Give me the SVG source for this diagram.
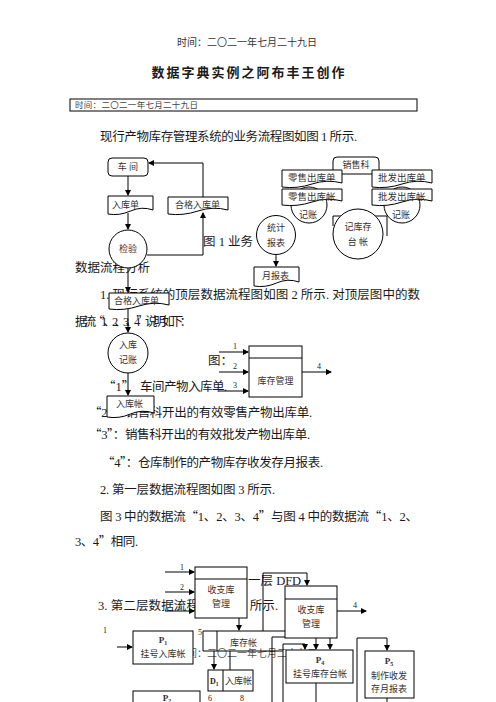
<svg xmlns="http://www.w3.org/2000/svg" width="496" height="702" viewBox="0 0 496 702">
<defs>
<marker id="ah" markerWidth="6" markerHeight="6" refX="5" refY="3" orient="auto" markerUnits="userSpaceOnUse">
<path d="M0,0 L6,3 L0,6 Z" fill="#000"/>
</marker>
<style>
text{font-family:"Liberation Serif","Noto Sans CJK SC",serif;fill:#1a1a1a}
.body{font-size:12.5px}
.q{font-family:"Noto Sans CJK SC",sans-serif}
.lab{font-size:9px;fill:#333}
.sm{font-size:8px}
.shape{fill:#fff;stroke:#000;stroke-width:1}
.ln{fill:none;stroke:#000;stroke-width:1}
.arr{fill:none;stroke:#000;stroke-width:1;marker-end:url(#ah)}
.mid{text-anchor:middle}
</style>
</defs>
<rect width="496" height="702" fill="#fff"/>

<g id="page-text">
<text x="247" y="46" class="mid" style="font-size:10px;fill:#333">时间：二〇二一年七月二十九日</text>
<text x="248" y="77" class="mid" style="font-size:13px;font-weight:bold" textLength="193">数据字典实例之阿布丰王创作</text>
<rect x="70" y="99" width="347" height="12" fill="none" stroke="#000" stroke-width="1"/>
<text x="75" y="108" style="font-size:8.5px;fill:#444" textLength="123">时间：二〇二一年七月二十九日</text>
<text x="100" y="141" class="body" textLength="257">现行产物库存管理系统的业务流程图如图 1 所示.</text>
<text x="203" y="246" class="body">图 1   业务</text>
<text x="75" y="272" class="body" textLength="75">数据流程分析</text>
<text x="100" y="299" class="body" textLength="320">1. 现行系统的顶层数据流程图如图 2 所示. 对顶层图中的数</text>
<text x="75" y="326" class="body" textLength="117">据流<tspan class="q">“</tspan>1、2、3、4<tspan class="q">”</tspan>说明如下：</text>
<text x="208" y="365" class="body">图：</text>
<text x="103" y="391" class="body"><tspan class="q">“</tspan>1<tspan class="q">”</tspan></text>
<text x="140" y="391" class="body" textLength="87">车间产物入库单.</text>
<text x="89" y="417" class="body" textLength="223"><tspan class="q">“</tspan>2<tspan class="q">”</tspan>：销售科开出的有效零售产物出库单.</text>
<text x="89" y="439" class="body" textLength="221"><tspan class="q">“</tspan>3<tspan class="q">”</tspan>：销售科开出的有效批发产物出库单.</text>
<text x="102" y="467" class="body" textLength="221"><tspan class="q">“</tspan>4<tspan class="q">”</tspan>：仓库制作的产物库存收发存月报表.</text>
<text x="100" y="494" class="body" textLength="175">2. 第一层数据流程图如图 3 所示.</text>
<text x="100" y="521" class="body" textLength="318">图 3 中的数据流<tspan class="q">“</tspan>1、2、3、4<tspan class="q">”</tspan>与图 4 中的数据流<tspan class="q">“</tspan>1、2、</text>
<text x="75" y="546" class="body" textLength="63">3、4<tspan class="q">”</tspan>相同.</text>
<text x="98" y="610" class="body" textLength="180">3. 第二层数据流程图如图 4 所示.</text>
<text x="248" y="585" class="body">一层 DFD</text>
<text x="177" y="657" style="font-size:10px;fill:#555">时间：二〇二一年七月二十九日</text>
</g>

<g id="connectors">
<line x1="128" y1="176" x2="128" y2="195" class="arr"/>
<line x1="128" y1="213" x2="128" y2="229" class="arr"/>
<polyline points="147,255 203,255 203,213" class="arr"/>
<polyline points="203,197 203,163 149,163" class="arr"/>
<line x1="128" y1="268" x2="128" y2="292" class="arr"/>
<line x1="128" y1="308" x2="128" y2="332" class="arr"/>
<line x1="128" y1="373" x2="128" y2="395" class="arr"/>
<line x1="342" y1="172" x2="372" y2="172" class="ln"/>
<line x1="276" y1="255" x2="276" y2="266" class="arr"/>
<line x1="219" y1="352" x2="248" y2="352" class="arr" stroke-width="1.6"/>
<line x1="219" y1="372" x2="248" y2="372" class="arr"/>
<line x1="219" y1="391" x2="248" y2="391" class="arr"/>
<line x1="302" y1="372" x2="331" y2="372" class="arr"/>
<line x1="165" y1="572" x2="194" y2="572" class="arr"/>
<line x1="165" y1="592" x2="194" y2="592" class="arr"/>
<line x1="165" y1="611" x2="194" y2="611" class="arr"/>
<line x1="337" y1="611" x2="366" y2="611" class="arr"/>
<line x1="239" y1="618" x2="239" y2="630" class="arr"/>
<polyline points="263,631 263,573 307,573 307,585" class="arr"/>
<line x1="117" y1="647" x2="132" y2="647" class="arr"/>
<line x1="214" y1="651" x2="214" y2="669" class="arr"/>
<line x1="230" y1="651" x2="230" y2="670" class="ln"/>
<polyline points="272,702 272,637 285,637" class="ln"/>
<polyline points="283,702 283,644 305,644 305,649" class="arr"/>
<line x1="316" y1="638" x2="316" y2="649" class="arr"/>
<line x1="330" y1="638" x2="330" y2="649" class="arr"/>
<line x1="316" y1="683" x2="316" y2="702" class="ln"/>
<polyline points="357,702 357,638 387,638 387,650" class="arr"/>
<line x1="387" y1="698" x2="387" y2="702" class="ln"/>
</g>

<g id="n-chejian"><rect x="108" y="158" width="40" height="18" rx="4" class="shape"/><text x="128" y="170" class="lab mid">车 间</text></g>
<g id="n-rukudan"><path d="M108,196 H153 V210 Q141.75,206 130.5,211 T108,214 Z" class="shape"/><text x="112" y="208" class="lab">入库单</text></g>
<g id="n-hege1"><path d="M168,197 H228 V210 Q213,206 198,211 T168,214 Z" class="shape"/><text x="175" y="208" class="lab">合格入库单</text></g>
<g id="n-jianyan"><circle cx="128" cy="249" r="19" class="shape"/><text x="128" y="252" class="lab mid">检验</text></g>
<g id="n-hege2"><path d="M109,293 H169 V305 Q154,301 139,306 T109,309 Z" class="shape"/><text x="114" y="304" class="lab">合格入库单</text></g>
<g id="n-rukujizhang"><circle cx="128" cy="353" r="20" class="shape"/><text x="128" y="348" class="lab mid">入库</text><text x="128" y="363" class="lab mid">记账</text></g>
<g id="n-rukuzhang"><path d="M107,396 H154 V413 Q142,409 130.5,414 T107,417 Z" class="shape"/><text x="116" y="407" class="lab">入库帐</text></g>

<g id="n-jizhang-l"><circle cx="309" cy="205" r="18" class="shape"/><text x="308" y="218" class="lab mid">记账</text></g>
<g id="n-jizhang-r"><circle cx="402" cy="205" r="18" class="shape"/><text x="401" y="218" class="lab mid">记账</text></g>
<g id="n-xiaoshouke"><rect x="333" y="157" width="46" height="17" rx="4" class="shape"/><text x="356" y="168" class="lab mid">销售科</text></g>
<g id="n-lingshoudan"><path d="M282,170 H342 V183 Q327,179 312,184 T282,187 Z" class="shape"/><text x="288" y="181" class="lab" style="font-size:9.5px">零售出库单</text></g>
<g id="n-lingshouzhang"><path d="M282,189 H342 V201 Q327,197 312,202 T282,205 Z" class="shape"/><text x="288" y="200" class="lab" style="font-size:9.5px">零售出库帐</text></g>
<g id="n-pifadan"><path d="M372,170 H432 V183 Q417,179 402,184 T372,187 Z" class="shape"/><text x="378" y="181" class="lab" style="font-size:9.5px">批发出库单</text></g>
<g id="n-pifazhang"><path d="M372,189 H432 V201 Q417,197 402,202 T372,205 Z" class="shape"/><text x="378" y="200" class="lab" style="font-size:9.5px">批发出库帐</text></g>
<g id="n-jikucun"><path d="M333,226 V216 H387 V236" class="ln"/><circle cx="358" cy="234" r="25" class="shape"/><text x="358" y="230" class="lab mid">记库存</text><text x="358" y="245" class="lab mid">台 帐</text></g>
<g id="n-tongji"><circle cx="276" cy="235" r="19.5" class="shape"/><text x="276" y="231" class="lab mid">统计</text><text x="276" y="246" class="lab mid">报表</text></g>
<g id="n-yuebaobiao"><path d="M254,267 H299 V282 Q287.75,278 276.5,283 T254,286 Z" class="shape"/><text x="262" y="279" class="lab">月报表</text></g>

<g id="n-kucunguanli"><rect x="249" y="346" width="53" height="51" class="shape"/><line x1="249" y1="358" x2="302" y2="358" class="ln"/><text x="275.5" y="384" class="lab mid">库存管理</text></g>
<g id="labels-fig2"><text x="233" y="349" class="sm">1</text><text x="233" y="369" class="sm">2</text><text x="233" y="388" class="sm">3</text><text x="317" y="369" class="sm">4</text></g>

<g id="n-shouzhi1"><rect x="195" y="567" width="52" height="51" class="shape"/><line x1="195" y1="579" x2="247" y2="579" class="ln"/><text x="221" y="593" class="lab mid">收支库</text><text x="221" y="607" class="lab mid">管理</text></g>
<g id="labels-fig3"><text x="180" y="570" class="sm">1</text><text x="180" y="590" class="sm">2</text><text x="177" y="610" class="sm">3</text></g>
<g id="n-shouzhi2"><rect x="285" y="586" width="52" height="52" class="shape"/><line x1="285" y1="599" x2="337" y2="599" class="ln"/><text x="311" y="613" class="lab mid">收支库</text><text x="311" y="627" class="lab mid">管理</text></g>
<text x="353" y="608" class="sm">4</text>

<g id="n-kucunzhang"><path d="M285,631 H203 V651 H283" class="ln"/><line x1="217" y1="631" x2="217" y2="651" class="ln"/><text x="230" y="646" class="lab">库存帐</text></g>
<g id="n-p1"><rect x="133" y="631" width="60" height="33" class="shape"/><text x="163" y="643" class="lab mid" style="font-weight:bold">P<tspan style="font-size:6px" dy="2">1</tspan></text><text x="163" y="657" class="lab mid">挂号入库帐</text></g>
<g id="n-d1"><rect x="208" y="670" width="45" height="21" class="shape"/><line x1="223" y1="670" x2="223" y2="691" class="ln"/><text x="210" y="684" class="sm" style="font-weight:bold">D<tspan style="font-size:5.5px" dy="2">1</tspan></text><text x="225" y="684" class="lab">入库帐</text></g>
<g id="n-p2"><rect x="133" y="691" width="67" height="15" class="shape"/><text x="167" y="701" class="lab mid" style="font-weight:bold">P<tspan style="font-size:6px" dy="2">2</tspan></text></g>
<g id="n-p4"><rect x="286" y="650" width="67" height="33" class="shape"/><text x="320" y="663" class="lab mid" style="font-weight:bold">P<tspan style="font-size:6px" dy="2">4</tspan></text><text x="320" y="677" class="lab mid">挂号库存台帐</text></g>
<g id="n-p5"><rect x="365" y="651" width="49" height="47" class="shape"/><text x="389" y="664" class="lab mid" style="font-weight:bold">P<tspan style="font-size:6px" dy="2">5</tspan></text><text x="389" y="679" class="lab mid">制作收发</text><text x="389" y="692" class="lab mid">存月报表</text></g>
<g id="labels-fig4"><text x="103" y="633" class="sm">1</text><text x="198" y="635" class="sm">5</text><text x="208" y="701" class="sm">6</text><text x="240" y="701" class="sm">8</text></g>
</svg>
